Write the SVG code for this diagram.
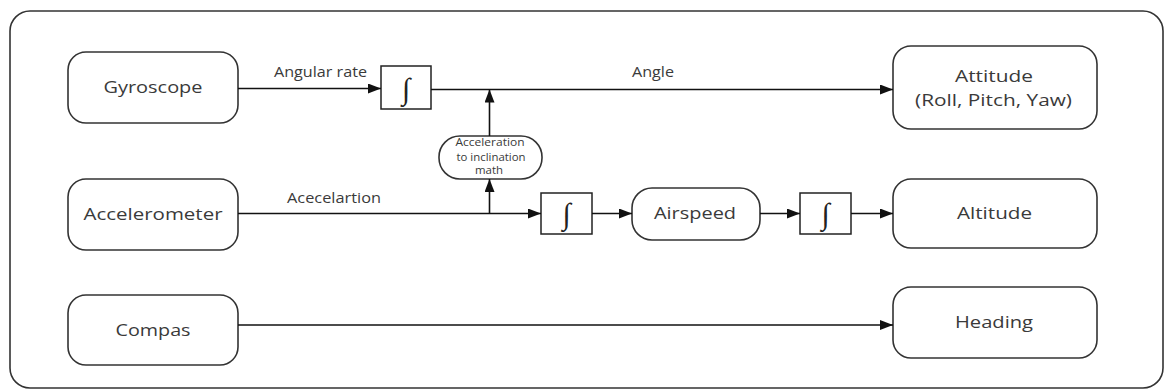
<svg xmlns="http://www.w3.org/2000/svg" width="1165" height="390" viewBox="0 0 1165 390">
<defs>
<marker id="arr" markerUnits="userSpaceOnUse" markerWidth="13" markerHeight="10" refX="13" refY="5" orient="auto">
<path d="M0,0 L13,5 L0,10 z" fill="#111"/>
</marker>
<style>
.box{fill:#fff;stroke:#333;stroke-width:1.6}
.int{fill:#fff;stroke:#222;stroke-width:1.5}
.t{font-family:"Open Sans","Liberation Sans",sans-serif;fill:#3a3a3a;text-anchor:middle}
.big{font-size:17px}
.lbl{font-size:14px}
.sm{font-size:10.5px}
.sym{font-family:"Liberation Serif","DejaVu Serif",serif;font-size:30px;fill:#222;text-anchor:middle}
.c{fill:none;stroke:#111;stroke-width:1.6}
</style>
</defs>
<rect x="0" y="0" width="1165" height="390" fill="#fff"/>
<rect id="frame" x="10" y="11" width="1153" height="377" rx="20" ry="20" fill="none" stroke="#333" stroke-width="1.6"/>

<g id="gyroscope">
<rect class="box" x="68" y="52" width="170" height="71" rx="18"/>
<text class="t big" x="153" y="93" textLength="99" lengthAdjust="spacingAndGlyphs">Gyroscope</text>
</g>
<g id="accelerometer">
<rect class="box" x="68" y="179" width="170" height="71" rx="18"/>
<text class="t big" x="153" y="220" textLength="139" lengthAdjust="spacingAndGlyphs">Accelerometer</text>
</g>
<g id="compas">
<rect class="box" x="68" y="295" width="170" height="70" rx="18"/>
<text class="t big" x="153" y="336" textLength="75" lengthAdjust="spacingAndGlyphs">Compas</text>
</g>
<g id="int1">
<rect class="int" x="381" y="66" width="50" height="43"/>
<text class="sym" x="406" y="99">∫</text>
</g>
<g id="int2">
<rect class="int" x="541" y="193" width="51" height="41"/>
<text class="sym" x="566.5" y="224">∫</text>
</g>
<g id="int3">
<rect class="int" x="800" y="193" width="51" height="41"/>
<text class="sym" x="825.5" y="224">∫</text>
</g>
<g id="inclination">
<rect class="box" x="439" y="136" width="103" height="43" rx="21"/>
<text class="t sm" x="490" y="146" textLength="69" lengthAdjust="spacingAndGlyphs">Acceleration</text>
<text class="t sm" x="491" y="161" textLength="69" lengthAdjust="spacingAndGlyphs">to inclination</text>
<text class="t sm" x="489" y="174" textLength="28" lengthAdjust="spacingAndGlyphs">math</text>
</g>
<g id="airspeed">
<rect class="box" x="632" y="188" width="128" height="52" rx="20"/>
<text class="t big" x="695" y="219" textLength="82" lengthAdjust="spacingAndGlyphs">Airspeed</text>
</g>
<g id="attitude">
<rect class="box" x="893" y="46" width="204" height="83" rx="18"/>
<text class="t big" x="994" y="82" textLength="78" lengthAdjust="spacingAndGlyphs">Attitude</text>
<text class="t big" x="993.5" y="106" textLength="157" lengthAdjust="spacingAndGlyphs">(Roll, Pitch, Yaw)</text>
</g>
<g id="altitude">
<rect class="box" x="893" y="179" width="204" height="69" rx="18"/>
<text class="t big" x="994.5" y="219" textLength="75" lengthAdjust="spacingAndGlyphs">Altitude</text>
</g>
<g id="heading">
<rect class="box" x="893" y="287" width="204" height="71" rx="18"/>
<text class="t big" x="994" y="328" textLength="78" lengthAdjust="spacingAndGlyphs">Heading</text>
</g>

<g id="connectors">
<line class="c" x1="238" y1="88.5" x2="381" y2="88.5" marker-end="url(#arr)"/>
<line class="c" x1="431" y1="89.5" x2="893" y2="89.5" marker-end="url(#arr)"/>
<line class="c" x1="238" y1="213.5" x2="541" y2="213.5" marker-end="url(#arr)"/>
<line class="c" x1="489.5" y1="213.5" x2="489.5" y2="179" marker-end="url(#arr)"/>
<line class="c" x1="489.5" y1="136" x2="489.5" y2="89.5" marker-end="url(#arr)"/>
<line class="c" x1="592" y1="213.5" x2="632" y2="213.5" marker-end="url(#arr)"/>
<line class="c" x1="760" y1="213.5" x2="800" y2="213.5" marker-end="url(#arr)"/>
<line class="c" x1="851" y1="213.5" x2="893" y2="213.5" marker-end="url(#arr)"/>
<line class="c" x1="238" y1="325" x2="893" y2="325" marker-end="url(#arr)"/>
<text class="t lbl" x="320.5" y="77" textLength="93" lengthAdjust="spacingAndGlyphs">Angular rate</text>
<text class="t lbl" x="653" y="77" textLength="42" lengthAdjust="spacingAndGlyphs">Angle</text>
<text class="t lbl" x="334" y="203" textLength="94" lengthAdjust="spacingAndGlyphs">Acecelartion</text>
</g>
</svg>
